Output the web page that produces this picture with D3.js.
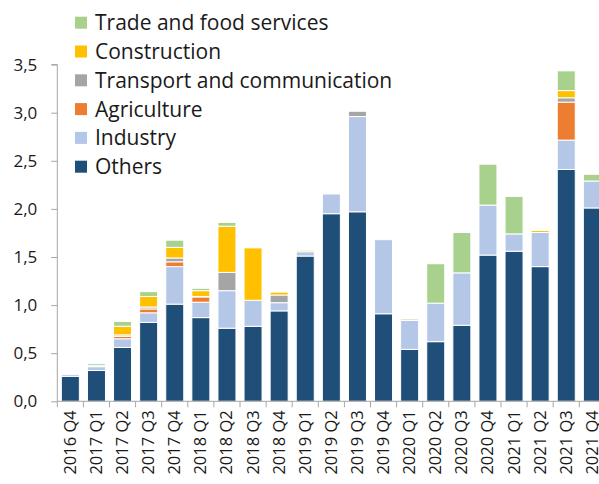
<!DOCTYPE html>
<html>
<head>
<meta charset="utf-8">
<script src="https://cdn.jsdelivr.net/npm/d3@7/dist/d3.min.js"></script>
<style>
  body { margin: 0; background: #fff; }
  svg { display: block; font-family: "Open Sans", sans-serif; }
</style>
</head>
<body>
<div id="chart"></div>
<script>
const quarters = ["2016 Q4", "2017 Q1", "2017 Q2", "2017 Q3", "2017 Q4", "2018 Q1", "2018 Q2",
  "2018 Q3", "2018 Q4", "2019 Q1", "2019 Q2", "2019 Q3", "2019 Q4", "2020 Q1", "2020 Q2",
  "2020 Q3", "2020 Q4", "2021 Q1", "2021 Q2", "2021 Q3", "2021 Q4"];

const others       = [0.26, 0.32, 0.56, 0.82, 1.01, 0.87, 0.76, 0.78, 0.94, 1.51, 1.95, 1.97, 0.91, 0.54, 0.62, 0.79, 1.52, 1.56, 1.40, 2.41, 2.01];
const industry     = [0.02, 0.04, 0.09, 0.10, 0.39, 0.16, 0.39, 0.27, 0.085, 0.045, 0.205, 0.99, 0.77, 0.30, 0.40, 0.545, 0.52, 0.18, 0.355, 0.305, 0.28];
const agriculture  = [0, 0, 0.025, 0.04, 0.05, 0.055, 0, 0, 0, 0, 0, 0, 0, 0, 0, 0, 0, 0, 0, 0.395, 0];
const transport    = [0, 0.01, 0.015, 0.02, 0.04, 0.005, 0.19, 0, 0.08, 0, 0, 0.055, 0, 0, 0, 0, 0, 0, 0, 0.045, 0];
const construction = [0, 0, 0.09, 0.11, 0.11, 0.06, 0.48, 0.545, 0.03, 0.015, 0, 0, 0, 0, 0, 0, 0, 0, 0.02, 0.075, 0];
const trade        = [0, 0.02, 0.05, 0.05, 0.075, 0.025, 0.04, 0, 0, 0, 0, 0, 0, 0.015, 0.41, 0.42, 0.425, 0.39, 0, 0.205, 0.07];

const yTicks = [0, 0.5, 1, 1.5, 2, 2.5, 3, 3.5];

// stack order bottom -> top
const series = [
  { key: "Others", values: others, color: "#1f4e79" },
  { key: "Industry", values: industry, color: "#b4c7e7" },
  { key: "Agriculture", values: agriculture, color: "#ed7d31" },
  { key: "Transport and communication", values: transport, color: "#a5a5a5" },
  { key: "Construction", values: construction, color: "#ffc000" },
  { key: "Trade and food services", values: trade, color: "#a9d18e" }
];

const W = 599, H = 484;
const plotLeft = 57.3, plotBottom = 401.3, plotTop = 64.6, plotRight = 605.4;

const rows = quarters.map((q, i) => {
  const r = { q };
  series.forEach(s => r[s.key] = s.values[i]);
  return r;
});

const stacked = d3.stack().keys(series.map(s => s.key))(rows);

const svg = d3.select("#chart").append("svg")
  .attr("width", W)
  .attr("height", H);

const x = d3.scaleBand().domain(quarters).range([plotLeft, plotRight]).paddingInner(0.31).paddingOuter(0.155);
const y = d3.scaleLinear().domain([0, 3.5]).range([plotBottom, plotTop]);

const color = d3.scaleOrdinal().domain(series.map(s => s.key)).range(series.map(s => s.color));

svg.append("g")
  .selectAll("g")
  .data(stacked).enter()
  .append("g")
    .attr("fill", d => color(d.key))
  .selectAll("rect")
  .data(d => d.filter(p => p[1] - p[0] > 0)).enter()
  .append("rect")
    .attr("x", d => x(d.data.q))
    .attr("y", d => y(d[1]))
    .attr("width", x.bandwidth())
    .attr("height", d => y(d[0]) - y(d[1]))
    .attr("stroke", "#fff")
    .attr("stroke-width", 1);

// y axis
const yAxis = svg.append("g")
  .attr("transform", `translate(${plotLeft},0)`)
  .call(d3.axisLeft(y).tickValues(yTicks).tickSize(6).tickPadding(14)
    .tickFormat(d => d3.format(".1f")(d).replace(".", ",")));
yAxis.select(".domain").attr("stroke", "#a6a6a6").attr("d", `M-6,${plotTop}H0V${plotBottom}`);
yAxis.selectAll(".tick line").attr("stroke", "#a6a6a6");
yAxis.selectAll(".tick text").attr("fill", "#1a1a1a").style("font-size", "17px")
  .style("font-family", "'Open Sans', sans-serif");

// x axis with ticks at band boundaries
const xAxis = svg.append("g")
  .attr("transform", `translate(0,${plotBottom})`);
xAxis.append("line")
  .attr("x1", plotLeft).attr("x2", plotRight)
  .attr("stroke", "#a6a6a6");
xAxis.selectAll(".xt")
  .data(quarters).enter()
  .append("line")
    .attr("x1", d => x(d) - x.step() * x.paddingInner() / 2)
    .attr("x2", d => x(d) - x.step() * x.paddingInner() / 2)
    .attr("y1", 0).attr("y2", 6)
    .attr("stroke", "#a6a6a6");
xAxis.selectAll(".xl")
  .data(quarters).enter()
  .append("text")
    .attr("transform", d => `translate(${x(d) + x.bandwidth() / 2 + 5.5},9) rotate(-90)`)
    .attr("text-anchor", "end")
    .attr("fill", "#1a1a1a")
    .style("font-size", "16.5px")
    .text(d => d);

// legend, top to bottom reversed stack order
const legend = svg.append("g")
  .attr("transform", "translate(75,22.7)");
const items = legend.selectAll("g")
  .data(series.slice().reverse()).enter()
  .append("g")
    .attr("transform", (d, i) => `translate(0,${i * 28.8})`);
items.append("rect")
  .attr("x", 0).attr("y", -6)
  .attr("width", 12).attr("height", 12)
  .attr("fill", d => d.color);
items.append("text")
  .attr("x", 20).attr("y", 7.5)
  .attr("fill", "#1a1a1a")
  .style("font-size", "21px")
  .text(d => d.key);
</script>
</body>
</html>
